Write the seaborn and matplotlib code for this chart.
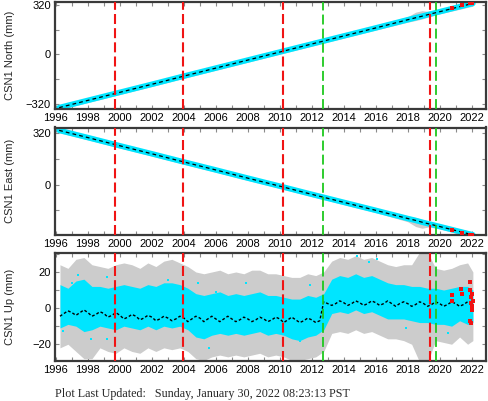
"""CSN1 GPS time series (North / East / Up) with event markers."""
import matplotlib

matplotlib.use("Agg")
import matplotlib.pyplot as plt
import numpy as np
import seaborn as sns
from matplotlib.ticker import MultipleLocator, StrMethodFormatter

sns.set_theme(style="ticks")
plt.rcParams["font.family"] = ["Liberation Sans", "DejaVu Sans"]

# --- event lines (decimal years) ---
red_events = [1999.7, 2003.95, 2010.2, 2019.42]
green_events = [2012.7, 2019.75]

# --- North / East (mm) ---
ne_years = [1996.2, 1998, 2000, 2002, 2004, 2006, 2008, 2010, 2012, 2014,
            2016, 2018, 2018.5, 2018.9, 2019.3, 2020, 2021, 2022.08]
north = [-345, -298, -246, -194, -141, -89, -37, 15, 67, 119,
         171, 224, 237, 247, 258, 276, 302, 330]
north_err_lo = [14, 14, 14, 14, 14, 14, 14, 14, 14, 14,
                14, 16, 18, 18, 16, 14, 16, 18]
north_err_hi = [14, 14, 14, 14, 14, 14, 14, 14, 14, 14,
                14, 20, 36, 36, 20, 14, 18, 22]
east = [338, 293, 242, 192, 141, 91, 40, -10, -61, -111,
        -161, -212, -224, -235, -245, -262, -287, -314]
east_err_lo = [14, 14, 14, 14, 14, 14, 14, 14, 14, 14,
               14, 20, 38, 38, 20, 14, 18, 20]
east_err_hi = [14, 14, 14, 14, 14, 14, 14, 14, 14, 14,
               14, 16, 18, 18, 16, 14, 16, 18]

red_years = [2020.75, 2021.4, 2021.9, 2022.05]
red_north = [298, 318, 330, 333]
red_east = [-283, -303, -312, -314]

# --- Up (mm): half-year envelopes of the points and of the error bars ---
up_years = np.append(np.arange(1996.25, 2022.0, 0.5), 2022.08)
up_cyan_lo = [-11, -9, -10, -13, -12, -10, -11, -12, -10, -11, -12, -10, -12, -10,
              -11, -10, -12, -16, -17, -15, -14, -15, -14, -15, -14, -13, -15, -14,
              -15, -17, -18, -16, -15, -12, -3, -2, -3, -1, -3, -2, -4, -6,
              -6, -6, -7, -8, -8, -9, -9, -10, -7, -9, -8]
up_cyan_hi = [13, 11, 15, 16, 12, 12, 11, 12, 13, 12, 11, 13, 12, 14,
              14, 13, 11, 8, 7, 8, 9, 7, 8, 7, 8, 9, 7, 7,
              6, 5, 5, 7, 6, 8, 16, 18, 17, 19, 17, 18, 16, 14,
              13, 13, 12, 12, 11, 11, 10, 11, 12, 12, 10]
up_gray_lo = [-22, -20, -24, -28, -28, -22, -24, -25, -22, -24, -25, -22, -24, -22,
              -23, -22, -24, -28, -29, -27, -26, -27, -26, -27, -26, -25, -27, -26,
              -27, -29, -29, -28, -27, -24, -14, -13, -14, -12, -14, -13, -15, -17,
              -17, -18, -20, -30, -30, -18, -19, -20, -16, -20, -18]
up_gray_hi = [24, 22, 27, 28, 24, 23, 22, 24, 25, 24, 22, 25, 23, 26,
              27, 25, 23, 20, 19, 20, 21, 19, 20, 19, 21, 21, 19, 19,
              18, 17, 17, 19, 18, 20, 26, 28, 27, 29, 27, 28, 26, 24,
              23, 24, 24, 31, 31, 22, 21, 22, 24, 25, 20]

# model curve, quarterly from 1996.25 to 2022.0
model_years = np.arange(1996.25, 2022.01, 0.25)
up_model = [
    -4.5, -3.0, -1.5, -2.5,  -4.0, -2.5, -1.0, -2.5,  -4.5, -3.5, -2.0, -3.0,
    -5.0, -4.0, -2.5, -4.0,  -6.0, -5.0, -3.5, -4.5,  -6.5, -5.5, -4.0, -5.0,
    -7.0, -6.0, -4.5, -5.5,  -7.0, -6.0, -4.5, -5.5,  -7.5, -6.0, -4.5, -5.5,
    -7.5, -6.0, -4.5, -6.0,  -7.5, -6.0, -4.5, -6.0,  -7.5, -6.5, -5.0, -6.0,
    -7.5, -6.5, -5.0, -6.0,  -7.5, -6.5, -5.0, -6.0,  -8.0, -6.5, -5.0, -6.5,
    -8.0, -7.0, -5.5, -6.5,  -8.0, -7.0, 3.5, 2.5,    1.5, 2.5, 4.0, 3.0,
    1.5, 2.5, 4.0, 3.0,      1.5, 2.5, 4.0, 3.0,      1.5, 2.5, 4.0, 2.5,
    1.0, 2.5, 3.5, 2.5,      1.0, 2.0, 3.5, 2.5,      1.0, 2.0, 3.5, 2.5,
    1.0, 2.0, 3.5, 2.5,      1.0, 2.0, 3.5, 2.5,
]

up_out_years = [1996.45, 1996.98, 1997.4, 1998.2, 1999.2, 1999.2, 2003.0, 2004.9,
                2005.6, 2006.0, 2007.9, 2011.25, 2011.9, 2014.8, 2015.6, 2016.1,
                2017.9, 2020.5]
up_out = [-12.6, 14, 18.5, -17, 17, -17, 15.7, 14, -22, 9, 14, -18, 12.9,
          29, 25.5, 27, -10.8, -13.6]

red_up_years = [2020.75, 2020.8, 2021.35, 2021.4, 2021.9, 2021.92, 2021.95,
                2021.97, 2022.0, 2022.02, 2021.93, 2021.96, 2022.04, 2022.06]
red_up = [7, 4, 10.5, 8, 14.5, 10, 6, 3, 1, -1, -7, -8, 8, 4]

CYAN = "#00e5ff"
GRAY = "#cccccc"
RED = "#f01414"
GREEN = "#1ec81e"

W, H = 488, 401
fig = plt.figure(figsize=(W / 100, H / 100), dpi=100)


def box(top, bottom):
    return [55 / W, 1 - bottom / H, 431 / W, (bottom - top) / H]


def style_axis(ax, ylim, major, minor, label):
    ax.set_xlim(1995.94, 2022.9)
    ax.set_ylim(*ylim)
    ax.xaxis.set_major_locator(MultipleLocator(2))
    ax.xaxis.set_minor_locator(MultipleLocator(1))
    ax.xaxis.set_major_formatter(StrMethodFormatter("{x:.0f}"))
    ax.yaxis.set_major_locator(MultipleLocator(major))
    ax.yaxis.set_minor_locator(MultipleLocator(minor))
    ax.tick_params(which="both", direction="in", top=True, right=True,
                   length=3, width=0.8, color="#8a8a8a", labelsize=8,
                   labelcolor="black", pad=3)
    for s in ax.spines.values():
        s.set_linewidth(1.6)
        s.set_color("#3a3a3a")
    ax.set_xlabel("")
    ax.set_ylabel(label, fontsize=8)
    ax.yaxis.set_label_coords(-0.092, 0.5)
    for yr in red_events:
        ax.axvline(yr, color=RED, lw=1.5, dashes=(4.8, 2), zorder=6)
    for yr in green_events:
        ax.axvline(yr, color=GREEN, lw=1.3, dashes=(5.5, 2.3), zorder=6)


def plot_horizontal(ax, vals, lo, hi, red_vals):
    v = np.array(vals)
    ax.fill_between(ne_years, v - np.array(lo), v + np.array(hi),
                    color=GRAY, lw=0, zorder=1)
    sns.lineplot(x=ne_years, y=vals, ax=ax, color=CYAN, linewidth=4.0,
                 zorder=2)
    ax.plot(ne_years, vals, color="black", lw=0.9, dashes=(3, 2.5), zorder=3)
    sns.scatterplot(x=red_years, y=red_vals, ax=ax, color=RED, marker="s",
                    s=6, linewidth=0, zorder=4)


ax_n = fig.add_axes(box(2, 109))
plot_horizontal(ax_n, north, north_err_lo, north_err_hi, red_north)
style_axis(ax_n, (-354, 339), 320, 160, "CSN1 North (mm)")

ax_e = fig.add_axes(box(127.5, 235))
plot_horizontal(ax_e, east, east_err_lo, east_err_hi, red_east)
style_axis(ax_e, (-315, 356), 320, 160, "CSN1 East (mm)")

ax_u = fig.add_axes(box(253, 360.5))
ax_u.fill_between(up_years, up_gray_lo, up_gray_hi, color=GRAY, lw=0, zorder=1)
ax_u.fill_between(up_years, up_cyan_lo, up_cyan_hi, color=CYAN, lw=0, zorder=2)
sns.scatterplot(x=up_out_years, y=up_out, ax=ax_u, color=CYAN, marker="s",
                s=4, linewidth=0, zorder=3)
ax_u.plot(model_years, up_model, color="black", lw=1.0, dashes=(2, 1.5),
          zorder=4)
sns.scatterplot(x=red_up_years, y=red_up, ax=ax_u, color=RED, marker="s",
                s=6, linewidth=0, zorder=5)
style_axis(ax_u, (-29, 30.5), 20, 10, "CSN1 Up (mm)")

fig.text(55 / W, 1 - 394 / H,
         "Plot Last Updated:   Sunday, January 30, 2022 08:23:13 PST",
         family=["Liberation Serif", "DejaVu Serif"], fontsize=8.7,
         va="center", ha="left")

fig.savefig("out.png", dpi=100)
